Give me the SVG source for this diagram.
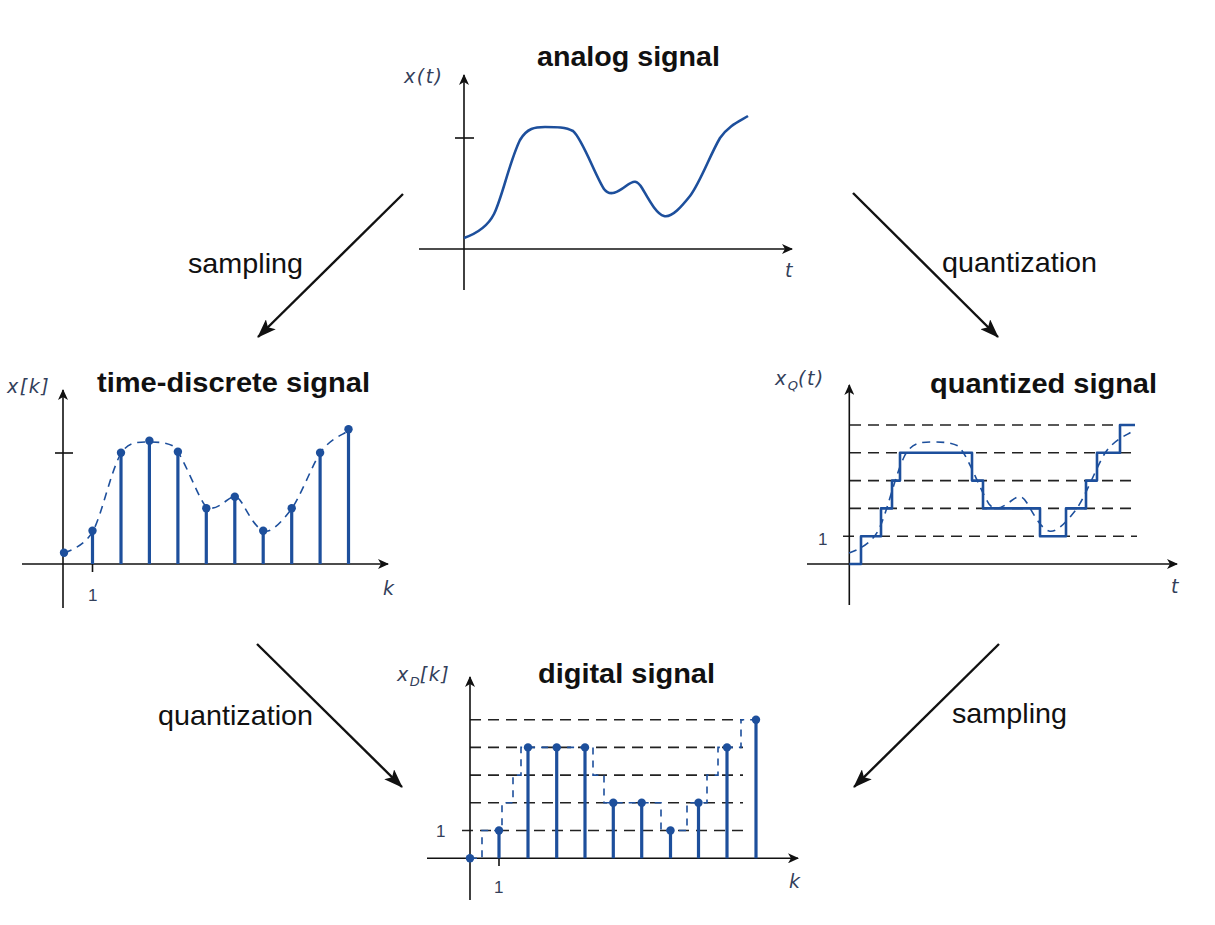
<svg xmlns="http://www.w3.org/2000/svg" width="1215" height="925" viewBox="0 0 1215 925">
<style>
.title{font-family:"Liberation Sans",Arial,sans-serif;font-weight:bold;font-size:28px;fill:#111}
.lbl{font-family:"Liberation Sans",Arial,sans-serif;font-size:28px;fill:#111}
.ax{font-family:"DejaVu Sans","Liberation Sans",sans-serif;font-style:italic;font-size:19px;letter-spacing:1.5px;fill:#33405a}
.sub{font-family:"DejaVu Sans","Liberation Sans",sans-serif;font-style:italic;font-size:13px;letter-spacing:0;fill:#33405a}
.num{font-family:"Liberation Sans",Arial,sans-serif;font-size:17px;fill:#33405a}
.axis{stroke:#111;stroke-width:1.6;fill:none}
.sig{stroke:#1d4f9c;stroke-width:2.6;fill:none;stroke-linejoin:round}
.dsig{stroke:#1d4f9c;stroke-width:1.6;fill:none;stroke-dasharray:8,6}
.stem{stroke:#1d4f9c;stroke-width:3.2}
.dot{fill:#1d4f9c}
.grid{stroke:#222;stroke-width:1.6;stroke-dasharray:11,7;fill:none}
.conn{stroke:#111;stroke-width:2.4;fill:none;marker-end:url(#bighead)}
</style>
<defs>
<marker id="axhead" markerWidth="12" markerHeight="10" refX="10" refY="5" orient="auto" markerUnits="userSpaceOnUse">
<path d="M0,0 L11,5 L0,10 L3,5 z" fill="#111"/>
</marker>
<marker id="bighead" markerWidth="20" markerHeight="14" refX="18" refY="7" orient="auto" markerUnits="userSpaceOnUse">
<path d="M0,0 L19,7 L0,14 L4,7 z" fill="#111"/>
</marker>
<path id="curve" d="M464,238 C478,233 488,226 494,214 C502,198 510,160 520,140 C527,128 535,127 545,127 C556,127 566,127 573,131 C582,138 595,175 604,189 C610,197 618,192 626,186 C634,180 637,180 642,188 C648,198 656,214 664,216 C672,218 682,206 690,196 C700,183 710,155 720,138 C729,125 740,121 748,116"/>
</defs>
<rect width="1215" height="925" fill="#fff"/>

<g id="analog">
<line class="axis" x1="464" y1="290" x2="464" y2="75" style="marker-end:url(#axhead)"/>
<line class="axis" x1="419" y1="249" x2="792" y2="249" style="marker-end:url(#axhead)"/>
<line class="axis" x1="455" y1="138" x2="474" y2="138"/>
<use href="#curve" class="sig"/>
<text class="ax" x="404" y="83">x(t)</text>
<text class="ax" x="785" y="277">t</text>
<text class="title" x="537" y="66" textLength="183" lengthAdjust="spacingAndGlyphs">analog signal</text>
</g>

<g id="time-discrete">
<line class="axis" x1="63" y1="608" x2="63" y2="390" style="marker-end:url(#axhead)"/>
<line class="axis" x1="22" y1="564" x2="388" y2="564" style="marker-end:url(#axhead)"/>
<line class="axis" x1="55" y1="453" x2="73" y2="453"/>
<line class="axis" x1="92.5" y1="564" x2="92.5" y2="572"/>
<use href="#curve" class="dsig" transform="translate(-400,315)"/>
<g>
<line class="stem" x1="92.5" y1="564" x2="92.5" y2="530.7"/>
<line class="stem" x1="121" y1="564" x2="121" y2="452.7"/>
<line class="stem" x1="149.4" y1="564" x2="149.4" y2="440.7"/>
<line class="stem" x1="177.9" y1="564" x2="177.9" y2="451.7"/>
<line class="stem" x1="206.3" y1="564" x2="206.3" y2="508.3"/>
<line class="stem" x1="234.8" y1="564" x2="234.8" y2="496.7"/>
<line class="stem" x1="263.2" y1="564" x2="263.2" y2="530.7"/>
<line class="stem" x1="291.7" y1="564" x2="291.7" y2="508.3"/>
<line class="stem" x1="320.1" y1="564" x2="320.1" y2="452.7"/>
<line class="stem" x1="348.5" y1="564" x2="348.5" y2="429.3"/>
<circle class="dot" cx="64" cy="552.7" r="4.2"/>
<circle class="dot" cx="92.5" cy="530.7" r="4.2"/>
<circle class="dot" cx="121" cy="452.7" r="4.2"/>
<circle class="dot" cx="149.4" cy="440.7" r="4.2"/>
<circle class="dot" cx="177.9" cy="451.7" r="4.2"/>
<circle class="dot" cx="206.3" cy="508.3" r="4.2"/>
<circle class="dot" cx="234.8" cy="496.7" r="4.2"/>
<circle class="dot" cx="263.2" cy="530.7" r="4.2"/>
<circle class="dot" cx="291.7" cy="508.3" r="4.2"/>
<circle class="dot" cx="320.1" cy="452.7" r="4.2"/>
<circle class="dot" cx="348.5" cy="429.3" r="4.2"/>
</g>
<text class="ax" x="7" y="393">x[k]</text>
<text class="ax" x="383" y="595">k</text>
<text class="num" x="88" y="601">1</text>
<text class="title" x="97" y="392" textLength="273" lengthAdjust="spacingAndGlyphs">time-discrete signal</text>
</g>

<g id="quantized">
<line class="grid" x1="843" y1="536.2" x2="1137" y2="536.2"/>
<line class="grid" x1="850" y1="508.4" x2="1137" y2="508.4"/>
<line class="grid" x1="850" y1="480.6" x2="1137" y2="480.6"/>
<line class="grid" x1="850" y1="452.8" x2="1137" y2="452.8"/>
<line class="grid" x1="850" y1="425" x2="1137" y2="425"/>
<line class="axis" x1="849.3" y1="605" x2="849.3" y2="385" style="marker-end:url(#axhead)"/>
<line class="axis" x1="807" y1="564" x2="1177" y2="564" style="marker-end:url(#axhead)"/>
<use href="#curve" class="dsig" transform="translate(385,315)"/>
<path class="sig" d="M849.3,564 H861 V536.2 H881 V508.4 H892 V480.6 H900 V452.8 H972 V480.6 H983 V508.4 H1040 V536.2 H1066 V508.4 H1086 V480.6 H1097 V452.8 H1120 V425 H1135"/>
<text class="ax" x="775" y="385">x<tspan class="sub" dy="5">Q</tspan><tspan dy="-5">(t)</tspan></text>
<text class="ax" x="1171" y="593">t</text>
<text class="num" x="818" y="545">1</text>
<text class="title" x="930" y="393" textLength="227" lengthAdjust="spacingAndGlyphs">quantized signal</text>
</g>

<g id="digital">
<line class="grid" x1="462" y1="830.5" x2="743" y2="830.5"/>
<line class="grid" x1="470" y1="802.8" x2="743" y2="802.8"/>
<line class="grid" x1="470" y1="775.1" x2="743" y2="775.1"/>
<line class="grid" x1="470" y1="747.4" x2="743" y2="747.4"/>
<line class="grid" x1="470" y1="719.7" x2="743" y2="719.7"/>
<line class="axis" x1="470" y1="900" x2="470" y2="677" style="marker-end:url(#axhead)"/>
<line class="axis" x1="427" y1="858.3" x2="798" y2="858.3" style="marker-end:url(#axhead)"/>
<line class="axis" x1="499" y1="858.3" x2="499" y2="866"/>
<path class="dsig" style="stroke-dasharray:7,6" d="M470,858.3 H482 V830.5 H502 V802.8 H513 V775.1 H521 V747.4 H593 V775.1 H604 V802.8 H661 V830.5 H687 V802.8 H707 V775.1 H718 V747.4 H741 V719.7 H756"/>
<g>
<line class="stem" x1="499" y1="858.3" x2="499" y2="830.5"/>
<line class="stem" x1="528" y1="858.3" x2="528" y2="747.4"/>
<line class="stem" x1="556.7" y1="858.3" x2="556.7" y2="747.4"/>
<line class="stem" x1="585" y1="858.3" x2="585" y2="747.4"/>
<line class="stem" x1="613.3" y1="858.3" x2="613.3" y2="802.8"/>
<line class="stem" x1="641.7" y1="858.3" x2="641.7" y2="802.8"/>
<line class="stem" x1="670.5" y1="858.3" x2="670.5" y2="830.5"/>
<line class="stem" x1="698.5" y1="858.3" x2="698.5" y2="802.8"/>
<line class="stem" x1="727" y1="858.3" x2="727" y2="747.4"/>
<line class="stem" x1="756" y1="858.3" x2="756" y2="719.7"/>
<circle class="dot" cx="470" cy="858.3" r="4.2"/>
<circle class="dot" cx="499" cy="830.5" r="4.2"/>
<circle class="dot" cx="528" cy="747.4" r="4.2"/>
<circle class="dot" cx="556.7" cy="747.4" r="4.2"/>
<circle class="dot" cx="585" cy="747.4" r="4.2"/>
<circle class="dot" cx="613.3" cy="802.8" r="4.2"/>
<circle class="dot" cx="641.7" cy="802.8" r="4.2"/>
<circle class="dot" cx="670.5" cy="830.5" r="4.2"/>
<circle class="dot" cx="698.5" cy="802.8" r="4.2"/>
<circle class="dot" cx="727" cy="747.4" r="4.2"/>
<circle class="dot" cx="756" cy="719.7" r="4.2"/>
</g>
<text class="ax" x="397" y="681">x<tspan class="sub" dy="5">D</tspan><tspan dy="-5">[k]</tspan></text>
<text class="ax" x="789" y="888">k</text>
<text class="num" x="494" y="893">1</text>
<text class="num" x="436" y="837">1</text>
<text class="title" x="538" y="683" textLength="177" lengthAdjust="spacingAndGlyphs">digital signal</text>
</g>

<g id="connectors">
<line class="conn" x1="403" y1="194" x2="258" y2="337"/>
<line class="conn" x1="853" y1="193" x2="998" y2="337"/>
<line class="conn" x1="257" y1="644" x2="402" y2="787"/>
<line class="conn" x1="999" y1="644" x2="854" y2="787"/>
<text class="lbl" x="188" y="273" textLength="115" lengthAdjust="spacingAndGlyphs">sampling</text>
<text class="lbl" x="942" y="272" textLength="155" lengthAdjust="spacingAndGlyphs">quantization</text>
<text class="lbl" x="158" y="725" textLength="155" lengthAdjust="spacingAndGlyphs">quantization</text>
<text class="lbl" x="952" y="723" textLength="115" lengthAdjust="spacingAndGlyphs">sampling</text>
</g>
</svg>
